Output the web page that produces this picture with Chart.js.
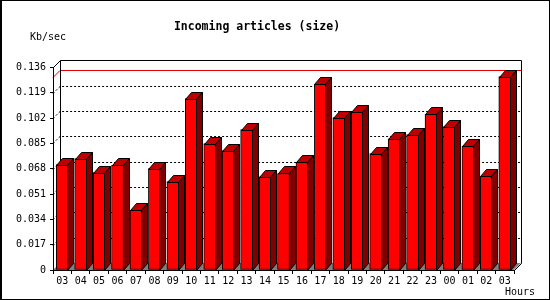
<!DOCTYPE html>
<html>
<head>
<meta charset="utf-8">
<script src="https://cdn.jsdelivr.net/npm/chart.js@4/dist/chart.umd.min.js"></script>
<style>
  body { margin: 0; background: white; }
  canvas { display: block; }
</style>
</head>
<body>
<canvas id="grafica" width="550" height="300"></canvas>
<script>
// datos
const horas = ["03","04","05","06","07","08","09","10","11","12","13","14","15","16","17","18","19","20","21","22","23","00","01","02","03"]
const valores = [0.0708, 0.0748, 0.0654, 0.0703, 0.0400, 0.0681, 0.0594, 0.1150, 0.0849, 0.0802, 0.0943, 0.0625, 0.0648, 0.0722, 0.1246, 0.1023, 0.1063, 0.0782, 0.0880, 0.0909, 0.1045, 0.0963, 0.0831, 0.0628, 0.1298]
const ticksY = [0, 0.017, 0.034, 0.051, 0.068, 0.085, 0.102, 0.119, 0.136]
const etiquetasY = ["0", "0.017", "0.034", "0.051", "0.068", "0.085", "0.102", "0.119", "0.136"]

const fuente = "DejaVu Sans Mono"
const maximo = Math.max(...valores)

// profundidad 3D
const paredX = 7, paredY = 7
const barraX = 6, barraY = 7

const fondo3D = {
    id: "fondo3D",
    beforeDraw(chart) {
        const ctx = chart.ctx
        const { left, right, top, bottom } = chart.chartArea
        const y = chart.scales.y
        ctx.save()
        ctx.fillStyle = "white"
        ctx.fillRect(0, 0, chart.width, chart.height)
        // borde del grafico
        ctx.fillStyle = "black"
        ctx.fillRect(0, 0, chart.width, 1)
        ctx.fillRect(0, chart.height - 1, chart.width, 1)
        ctx.fillRect(0, 0, 2, chart.height)
        ctx.fillRect(chart.width - 1, 0, 1, chart.height)

        // piso gris
        ctx.fillStyle = "#808080"
        ctx.beginPath()
        ctx.moveTo(left, bottom)
        ctx.lineTo(right, bottom)
        ctx.lineTo(right + paredX, bottom - paredY)
        ctx.lineTo(left + paredX, bottom - paredY)
        ctx.closePath()
        ctx.fill()

        // lineas punteadas en la pared del fondo
        ctx.strokeStyle = "black"
        ctx.lineWidth = 1
        ctx.setLineDash([2, 2])
        ticksY.slice(1, -1).forEach(v => {
            const py = Math.round(y.getPixelForValue(v)) + 0.5
            ctx.beginPath()
            ctx.moveTo(left, py)
            ctx.lineTo(left + paredX, py - paredY)
            ctx.lineTo(right + paredX, py - paredY)
            ctx.stroke()
        })
        ctx.setLineDash([])

        // linea roja del maximo
        const pm = Math.round(y.getPixelForValue(maximo)) + 0.5
        ctx.strokeStyle = "#e00000"
        ctx.beginPath()
        ctx.moveTo(left, pm)
        ctx.lineTo(left + paredX, pm - paredY)
        ctx.lineTo(right + paredX, pm - paredY)
        ctx.stroke()

        // marco de la pared
        ctx.strokeStyle = "black"
        const t = Math.round(top) + 0.5
        const b = Math.round(bottom) + 0.5
        const l = Math.round(left) + 0.5
        const r = Math.round(right) + 0.5
        ctx.beginPath()
        ctx.moveTo(l, t)
        ctx.lineTo(l + paredX, t - paredY)
        ctx.lineTo(r + paredX, t - paredY)
        ctx.lineTo(r + paredX, b - paredY)
        ctx.lineTo(r, b)
        ctx.moveTo(l + paredX, t - paredY)
        ctx.lineTo(l + paredX, b - paredY)
        ctx.stroke()
        ctx.restore()
    },
    afterDatasetsDraw(chart) {
        const ctx = chart.ctx
        const barras = chart.getDatasetMeta(0).data
        ctx.save()
        ctx.lineWidth = 1
        ctx.strokeStyle = "black"
        barras.forEach(barra => {
            const x0 = Math.round(barra.x - barra.width / 2) + 0.5
            const x1 = Math.round(barra.x + barra.width / 2) - 0.5
            const yt = Math.round(barra.y) + 0.5
            const yb = Math.round(barra.base) + 0.5
            // cara superior
            ctx.fillStyle = "#c00000"
            ctx.beginPath()
            ctx.moveTo(x0, yt)
            ctx.lineTo(x0 + barraX, yt - barraY)
            ctx.lineTo(x1 + barraX, yt - barraY)
            ctx.lineTo(x1, yt)
            ctx.closePath()
            ctx.fill()
            ctx.stroke()
            // cara lateral
            ctx.fillStyle = "#800000"
            ctx.beginPath()
            ctx.moveTo(x1, yt)
            ctx.lineTo(x1 + barraX, yt - barraY)
            ctx.lineTo(x1 + barraX, yb - barraY)
            ctx.lineTo(x1, yb)
            ctx.closePath()
            ctx.fill()
            ctx.stroke()
        })
        ctx.restore()
    },
    afterDraw(chart) {
        const ctx = chart.ctx
        ctx.save()
        ctx.fillStyle = "black"
        ctx.font = "10px " + fuente
        ctx.textBaseline = "middle"
        ctx.textAlign = "left"
        ctx.fillText("Kb/sec", 30, 37)
        ctx.textAlign = "right"
        ctx.fillText("Hours", 535, 292)
        ctx.restore()
    }
}

const config = {
    type: "bar",
    data: {
        labels: horas,
        datasets: [
            {
                label: "Incoming articles (size)",
                data: valores,
                backgroundColor: "#ff0000",
                borderColor: "black",
                borderWidth: 1,
                borderSkipped: false,
                barThickness: 12
            }
        ]
    },
    options: {
        responsive: false,
        animation: false,
        layout: {
            padding: { left: 0, right: 36, top: 0, bottom: 0 }
        },
        plugins: {
            legend: { display: false },
            tooltip: { enabled: false },
            title: {
                display: true,
                text: "Incoming articles (size)",
                color: "black",
                font: { family: fuente, size: 11.5, weight: "bold" },
                padding: { top: 20, bottom: 33.6 }
            }
        },
        scales: {
            x: {
                grid: { display: true, offset: true, drawOnChartArea: false, tickLength: 4, color: "black" },
                border: { display: true, color: "black" },
                ticks: {
                    color: "black",
                    font: { family: fuente, size: 10 },
                    padding: 1,
                    maxRotation: 0,
                    autoSkip: false
                },
                afterFit(scale) { scale.height = 30 }
            },
            y: {
                min: 0,
                max: 0.136,
                afterBuildTicks(scale) { scale.ticks = ticksY.map(v => ({ value: v })) },
                grid: { display: true, drawOnChartArea: false, tickLength: 3, color: "black" },
                border: { display: true, color: "black" },
                ticks: {
                    color: "black",
                    font: { family: fuente, size: 10 },
                    padding: 4,
                    callback: (v, i) => etiquetasY[i]
                },
                afterFit(scale) { scale.width = 53 }
            }
        }
    },
    plugins: [fondo3D]
}

const miGraf = new Chart(document.querySelector("#grafica"), config)
</script>
</body>
</html>
